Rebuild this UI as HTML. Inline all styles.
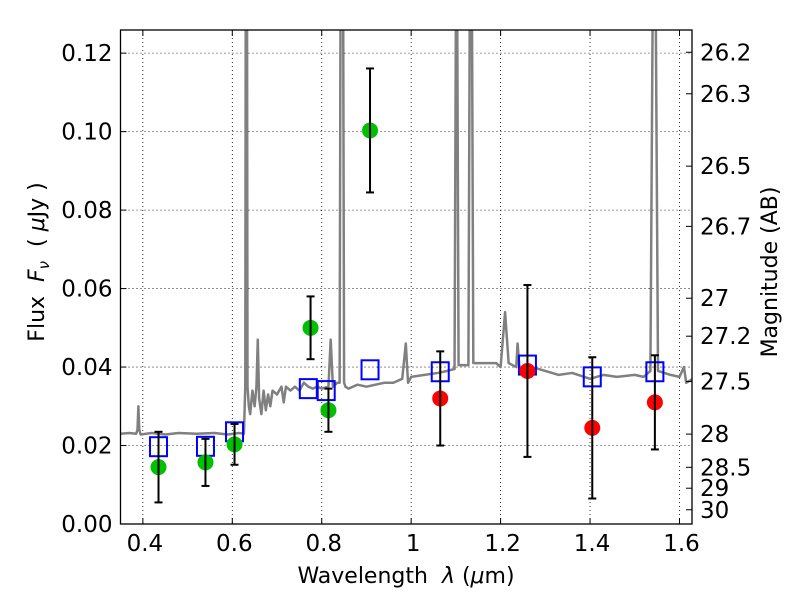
<!DOCTYPE html>
<html><head><meta charset="utf-8"><style>
body{margin:0;background:#fff}
svg text{font-family:"DejaVu Sans","Liberation Sans",sans-serif;fill:#000}
</style></head><body>
<svg id="chart" width="800" height="600" viewBox="0 0 800 600" xmlns="http://www.w3.org/2000/svg">
<defs><clipPath id="clip"><rect x="120.5" y="30" width="571.5" height="494"/></clipPath></defs>
<rect width="800" height="600" fill="#fff"/>
<g id="grid"></g>
<g id="marks" clip-path="url(#clip)"></g>
<g id="axes"></g>
<rect x="120.5" y="30" width="571.5" height="494" fill="none" stroke="#000" stroke-width="1.3"/>
<text x="406" y="583" font-size="22" text-anchor="middle" xml:space="preserve">Wavelength  <tspan font-style="italic">λ</tspan> (<tspan font-style="italic">μ</tspan>m)</text>
<text transform="translate(44,262) rotate(-90)" font-size="22" text-anchor="middle" xml:space="preserve">Flux  <tspan font-style="italic">F</tspan><tspan font-style="italic" font-size="15" dy="5">ν</tspan><tspan dy="-5">  ( </tspan><tspan font-style="italic">μ</tspan>Jy )</text>
<text transform="translate(777,272) rotate(-90)" font-size="22" text-anchor="middle">Magnitude (AB)</text>
</svg>
<script>
const xTicks=[0.4,0.6,0.8,1.0,1.2,1.4,1.6];
const xTickLabels=["0.4","0.6","0.8","1","1.2","1.4","1.6"];
const yTicks=[0,0.02,0.04,0.06,0.08,0.10,0.12];
const yTickLabels=["0.00","0.02","0.04","0.06","0.08","0.10","0.12"];
const magTicks=[26.2,26.3,26.5,26.7,27,27.2,27.5,28,28.5,29,30];
const specWave=[0.35,0.37,0.385,0.388,0.39,0.392,0.395,0.42,0.45,0.48,0.52,0.56,0.59,0.615,0.626,0.629,0.630,0.633,0.634,0.637,0.64,0.645,0.65,0.654,0.657,0.66,0.665,0.67,0.675,0.68,0.685,0.69,0.70,0.71,0.715,0.72,0.73,0.74,0.75,0.76,0.77,0.78,0.79,0.80,0.815,0.82,0.825,0.835,0.840,0.842,0.848,0.850,0.853,0.86,0.88,0.90,0.92,0.94,0.96,0.98,0.988,0.993,1.00,1.03,1.06,1.08,1.097,1.100,1.103,1.106,1.128,1.131,1.136,1.139,1.145,1.16,1.19,1.20,1.21,1.218,1.235,1.238,1.242,1.27,1.30,1.33,1.36,1.40,1.43,1.46,1.50,1.52,1.535,1.540,1.547,1.552,1.58,1.60,1.61,1.615,1.63];
const specFlux=[0.023,0.0232,0.023,0.024,0.030,0.024,0.0228,0.0232,0.0228,0.0232,0.023,0.0232,0.0228,0.0232,0.023,0.035,0.13,0.13,0.035,0.03,0.028,0.034,0.030,0.035,0.047,0.032,0.028,0.034,0.029,0.033,0.030,0.034,0.033,0.035,0.031,0.035,0.034,0.035,0.034,0.036,0.035,0.0345,0.035,0.0345,0.035,0.047,0.035,0.036,0.036,0.13,0.13,0.036,0.035,0.0345,0.0355,0.035,0.0355,0.036,0.036,0.037,0.046,0.036,0.0375,0.038,0.0385,0.039,0.0395,0.13,0.13,0.0405,0.0405,0.13,0.13,0.041,0.041,0.041,0.041,0.040,0.054,0.041,0.040,0.046,0.040,0.040,0.039,0.038,0.0385,0.037,0.038,0.0375,0.038,0.0375,0.039,0.13,0.13,0.039,0.038,0.0375,0.040,0.036,0.037];
const greenWave=[0.435,0.54,0.605,0.775,0.815,0.908];
const greenFlux=[0.0145,0.0157,0.0203,0.050,0.029,0.1003];
const greenErr=[0.009,0.006,0.0052,0.008,0.0055,0.0158];
const redWave=[1.065,1.26,1.405,1.545];
const redFlux=[0.032,0.039,0.0245,0.031];
const redErr=[0.012,0.0219,0.018,0.012];
const modelWave=[0.435,0.54,0.605,0.77,0.81,0.908,1.065,1.26,1.405,1.545];
const modelFlux=[0.0197,0.0198,0.0235,0.0345,0.034,0.0393,0.0388,0.0405,0.0375,0.0388];

const L=120.5,R=692,T=30,B=524,xmin=0.35,xmax=1.628,ymax=0.1259;
const X=v=>L+(v-xmin)/(xmax-xmin)*(R-L);
const Y=v=>B-v/ymax*(B-T);
const NS="http://www.w3.org/2000/svg";
function mk(tag,attrs,parent){const e=document.createElementNS(NS,tag);for(const k in attrs)e.setAttribute(k,attrs[k]);parent.appendChild(e);return e;}
const grid=document.getElementById('grid'),marks=document.getElementById('marks'),axes=document.getElementById('axes');
xTicks.forEach((t,i)=>{
 const x=X(t);
 const g=mk('line',{x1:x,x2:x,y1:T,y2:B,stroke:'#000','stroke-width':0.8,'stroke-dasharray':'1,3'},grid);
 
 
 mk('line',{x1:x,x2:x,y1:B,y2:B-6,stroke:'#000'},axes);
 mk('line',{x1:x,x2:x,y1:T,y2:T+6,stroke:'#000'},axes);
 const tx=mk('text',{x:x+2,y:B+27,'font-size':23,'text-anchor':'middle'},axes);
 tx.textContent=xTickLabels[i];
 
 
});
yTicks.forEach((t,i)=>{
 const y=Y(t);
 const g=mk('line',{x1:L,x2:R,y1:y,y2:y,stroke:'#000','stroke-width':0.8,'stroke-dasharray':'1,3'},grid);
 
 
 mk('line',{x1:L,x2:L+6,y1:y,y2:y,stroke:'#000'},axes);
 const tx=mk('text',{x:L-8,y:y+8,'font-size':23,'text-anchor':'end'},axes);
 tx.textContent=yTickLabels[i];
 
 
});
magTicks.forEach(m=>{
 const f=Math.pow(10,(23.9-m)/2.5);
 const y=Y(f);
 mk('line',{x1:R,x2:R-6,y1:y,y2:y,stroke:'#000'},axes);
 const tx=mk('text',{x:R+8,y:y+8,'font-size':23},axes);
 tx.textContent=String(m);
 
 
});
const sp=mk('polyline',{points:specWave.map((w,i)=>X(w)+','+Y(specFlux[i])).join(' '),fill:'none',stroke:'#808080','stroke-width':2.5,'stroke-linejoin':'round'},marks);


function errbar(w,f,e){
 const x=X(w);
 const g=mk('g',{stroke:'#000','stroke-width':2},marks);
 
 
 mk('line',{x1:x,x2:x,y1:Y(f-e),y2:Y(f+e)},g);
 mk('line',{x1:x-4,x2:x+4,y1:Y(f-e),y2:Y(f-e)},g);
 mk('line',{x1:x-4,x2:x+4,y1:Y(f+e),y2:Y(f+e)},g);
}
modelWave.forEach((w,i)=>{
 const r=mk('rect',{x:X(w)-8.5,y:Y(modelFlux[i])-9.5,width:17,height:19,fill:'none',stroke:'#0000ff','stroke-width':2},marks);
 
 
});
greenWave.forEach((w,i)=>{
 const c=mk('circle',{cx:X(w),cy:Y(greenFlux[i]),r:8,fill:'#00bf00'},marks);
 
 
 errbar(w,greenFlux[i],greenErr[i]);
});
redWave.forEach((w,i)=>{
 const c=mk('circle',{cx:X(w),cy:Y(redFlux[i]),r:8,fill:'#ff0000'},marks);
 
 
 errbar(w,redFlux[i],redErr[i]);
});
</script>
</body></html>
